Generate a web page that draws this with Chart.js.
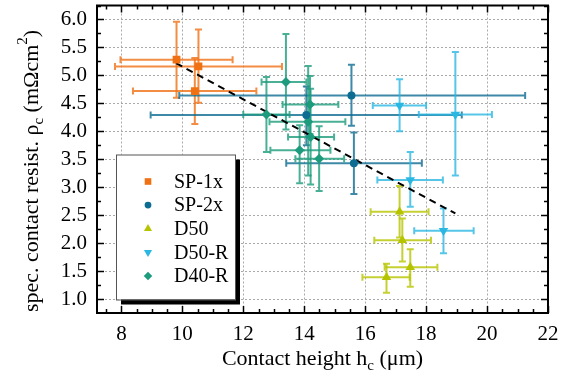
<!DOCTYPE html>
<html>
<head>
<meta charset="utf-8">
<script src="https://cdn.jsdelivr.net/npm/chart.js@4.4.1/dist/chart.umd.min.js"></script>
<style>
  html, body { margin: 0; padding: 0; background: #fff; }
  canvas { display: block; }
</style>
</head>
<body>
<canvas id="grafico" width="561" height="378"></canvas>
<script>
// nomes das séries e cores
const series = ['SP-1x', 'SP-2x', 'D50', 'D50-R', 'D40-R'];
const cores = ['rgb(240,112,20)', 'rgb(12,108,145)', 'rgb(182,196,0)', 'rgb(42,184,226)', 'rgb(28,156,124)'];

const xTicks = [8, 10, 12, 14, 16, 18, 20, 22];
const yTicks = [1.0, 1.5, 2.0, 2.5, 3.0, 3.5, 4.0, 4.5, 5.0, 5.5, 6.0];

// SP-1x
const sp1xX = [9.81, 10.53, 10.41];
const sp1xY = [5.28, 5.16, 4.72];
const sp1xErrX = [[7.97, 11.65], [7.79, 13.27], [8.38, 12.43]];
const sp1xErrY = [[4.60, 5.96], [4.51, 5.82], [4.13, 5.31]];

// SP-2x
const sp2xX = [15.55, 14.07, 15.63];
const sp2xY = [4.64, 4.29, 3.43];
const sp2xErrX = [[9.90, 21.25], [8.96, 19.17], [13.41, 17.86]];
const sp2xErrY = [[4.10, 5.19], [3.75, 4.80], [2.88, 3.98]];

// D50
const d50X = [17.13, 17.22, 17.48, 16.70];
const d50Y = [2.56, 2.05, 1.57, 1.39];
const d50ErrX = [[16.18, 18.08], [16.30, 18.16], [16.64, 18.37], [15.91, 17.46]];
const d50ErrY = [[2.10, 3.02], [1.67, 2.44], [1.22, 1.89], [1.11, 1.63]];

// D50-R
const d50rX = [17.13, 18.96, 17.48, 18.57];
const d50rY = [4.46, 4.30, 3.13, 2.22];
const d50rErrX = [[16.25, 18.00], [17.76, 20.16], [16.40, 18.55], [17.61, 19.56]];
const d50rErrY = [[4.00, 4.93], [3.21, 5.42], [2.65, 3.63], [1.82, 2.62]];

// D40-R
const d40rX = [13.40, 12.76, 14.19, 14.13, 14.21, 13.85, 14.49];
const d40rY = [4.88, 4.30, 4.48, 4.17, 3.90, 3.66, 3.51];
const d40rErrX = [[12.60, 14.07], [12.00, 13.52], [13.29, 15.12], [12.86, 15.35], [13.47, 14.98], [12.89, 14.86], [13.71, 15.31]];
const d40rErrY = [[4.03, 5.74], [3.63, 4.97], [3.95, 4.99], [3.21, 5.17], [3.05, 4.76], [3.07, 4.11], [2.93, 4.09]];

// linha de tendência
const ajusteX = [9.79, 18.96];
const ajusteY = [5.22, 2.53];

const fonte = 'Liberation Serif, Times New Roman, serif';

function pontos(xs, ys) {
  return xs.map((x, i) => ({ x: x, y: ys[i] }));
}

function serie(i, xs, ys, errX, errY, estilo, raio, rotacao) {
  return {
    label: series[i],
    data: pontos(xs, ys),
    erroX: errX,
    erroY: errY,
    backgroundColor: cores[i],
    borderColor: cores[i],
    borderWidth: 0,
    pointStyle: estilo,
    pointRadius: raio,
    pointRotation: rotacao || 0,
    pointHoverRadius: raio,
  };
}

function comAlfa(cor, a) {
  return cor.replace('rgb(', 'rgba(').replace(')', ',' + a + ')');
}

const barrasErro = {
  id: 'barrasErro',
  beforeDatasetsDraw(chart) {
    const ctx = chart.ctx;
    const sx = chart.scales.x;
    const sy = chart.scales.y;
    const cap = 3.5;
    chart.data.datasets.forEach((ds) => {
      if (!ds.erroX) return;
      ctx.save();
      ctx.strokeStyle = comAlfa(ds.borderColor, 0.8);
      ctx.lineWidth = 2;
      ds.data.forEach((p, j) => {
        const px = sx.getPixelForValue(p.x);
        const py = sy.getPixelForValue(p.y);
        const x0 = sx.getPixelForValue(ds.erroX[j][0]);
        const x1 = sx.getPixelForValue(ds.erroX[j][1]);
        const y0 = sy.getPixelForValue(ds.erroY[j][0]);
        const y1 = sy.getPixelForValue(ds.erroY[j][1]);
        ctx.beginPath();
        ctx.moveTo(x0, py); ctx.lineTo(x1, py);
        ctx.moveTo(x0, py - cap); ctx.lineTo(x0, py + cap);
        ctx.moveTo(x1, py - cap); ctx.lineTo(x1, py + cap);
        ctx.moveTo(px, y0); ctx.lineTo(px, y1);
        ctx.moveTo(px - cap, y0); ctx.lineTo(px + cap, y0);
        ctx.moveTo(px - cap, y1); ctx.lineTo(px + cap, y1);
        ctx.stroke();
      });
      ctx.restore();
    });
  }
};

function textoComIndice(ctx, partes, tam) {
  let largura = 0;
  partes.forEach((p) => {
    ctx.font = (p.s ? Math.round(tam * 0.68) : tam) + 'px ' + fonte;
    p.w = ctx.measureText(p.t).width;
    largura += p.w;
  });
  let x = -largura / 2;
  partes.forEach((p) => {
    ctx.font = (p.s ? Math.round(tam * 0.68) : tam) + 'px ' + fonte;
    let dy = 0;
    if (p.s === 1) dy = tam * 0.3;
    if (p.s === 2) dy = -tam * 0.42;
    ctx.fillText(p.t, x, dy);
    x += p.w;
  });
}

const moldura = {
  id: 'moldura',
  afterDatasetsDraw(chart) {
    const ctx = chart.ctx;
    const a = chart.chartArea;
    const sx = chart.scales.x;
    const sy = chart.scales.y;
    ctx.save();
    ctx.strokeStyle = '#000';

    // marcas nos quatro lados
    ctx.lineWidth = 1.5;
    ctx.beginPath();
    for (let v = 7.5; v <= 22; v += 0.5) {
      const px = Math.round(sx.getPixelForValue(v)) + 0.5;
      const t = (v % 2 === 0) ? 7 : 4;
      ctx.moveTo(px, a.bottom); ctx.lineTo(px, a.bottom - t);
      ctx.moveTo(px, a.top); ctx.lineTo(px, a.top + t);
    }
    for (let v = 1; v <= 6.25; v += 0.25) {
      const py = Math.round(sy.getPixelForValue(v)) + 0.5;
      const t = (Math.abs(v * 2 - Math.round(v * 2)) < 1e-6) ? 7 : 4;
      ctx.moveTo(a.left, py); ctx.lineTo(a.left + t, py);
      ctx.moveTo(a.right, py); ctx.lineTo(a.right - t, py);
    }
    ctx.stroke();

    ctx.lineWidth = 2;
    ctx.strokeRect(a.left, a.top, a.right - a.left, a.bottom - a.top);

    // legenda
    const lx = a.left + 19;
    const ly = a.top + 149;
    const lw = 119;
    const lh = 145;
    ctx.fillStyle = '#000';
    ctx.fillRect(lx + 5, ly + 5, lw, lh);
    ctx.fillStyle = '#fff';
    ctx.fillRect(lx, ly, lw, lh);
    ctx.lineWidth = 1;
    ctx.strokeStyle = '#555';
    ctx.strokeRect(lx + 0.5, ly + 0.5, lw, lh);

    chart.data.datasets.forEach((ds, i) => {
      if (!ds.erroX) return;
      const yy = ly + 27 + i * 23.6;
      ctx.fillStyle = ds.backgroundColor;
      ctx.strokeStyle = ds.backgroundColor;
      Chart.helpers.drawPoint(ctx, {
        pointStyle: ds.pointStyle,
        radius: ds.pointRadius * 0.85,
        rotation: ds.pointRotation,
        borderWidth: 0
      }, lx + 32, yy);
      ctx.fillStyle = '#000';
      ctx.font = '20px ' + fonte;
      ctx.textAlign = 'left';
      ctx.textBaseline = 'middle';
      ctx.fillText(ds.label, lx + 58, yy + 1);
    });

    // títulos dos eixos
    ctx.fillStyle = '#000';
    ctx.textAlign = 'left';
    ctx.textBaseline = 'middle';
    ctx.save();
    ctx.translate((a.left + a.right) / 2, 359);
    textoComIndice(ctx, [
      { t: 'Contact height h', s: 0 },
      { t: 'c', s: 1 },
      { t: ' (μm)', s: 0 }
    ], 22);
    ctx.restore();

    ctx.save();
    ctx.translate(32, 171);
    ctx.rotate(-Math.PI / 2);
    textoComIndice(ctx, [
      { t: 'spec. contact resist. ρ', s: 0 },
      { t: 'c', s: 1 },
      { t: ' (mΩcm', s: 0 },
      { t: '2', s: 2 },
      { t: ')', s: 0 }
    ], 22);
    ctx.restore();

    ctx.restore();
  }
};

function desenhaGrafico() {
  const ctx = document.getElementById('grafico').getContext('2d');

  const datasets = [
    serie(0, sp1xX, sp1xY, sp1xErrX, sp1xErrY, 'rect', 5.5),
    serie(1, sp2xX, sp2xY, sp2xErrX, sp2xErrY, 'circle', 4),
    serie(2, d50X, d50Y, d50ErrX, d50ErrY, 'triangle', 5.5),
    serie(3, d50rX, d50rY, d50rErrX, d50rErrY, 'triangle', 5.5, 180),
    serie(4, d40rX, d40rY, d40rErrX, d40rErrY, 'rectRot', 5),
    {
      label: 'ajuste',
      data: pontos(ajusteX, ajusteY),
      showLine: true,
      borderColor: '#000',
      borderWidth: 2,
      borderDash: [7, 5],
      pointRadius: 0,
      fill: false,
    },
  ];

  new Chart(ctx, {
    type: 'scatter',
    data: { datasets: datasets },
    options: {
      responsive: false,
      animation: false,
      devicePixelRatio: 1,
      layout: { padding: { left: 0, right: 13, top: 5, bottom: 0 } },
      plugins: {
        legend: { display: false },
        tooltip: { enabled: false },
      },
      scales: {
        x: {
          type: 'linear',
          min: 7.2,
          max: 22,
          afterBuildTicks: (s) => { s.ticks = xTicks.map(v => ({ value: v })); },
          afterFit: (s) => { s.height = 65; s.paddingLeft = 0; s.paddingRight = 0; },
          grid: { color: 'rgba(160,160,160,0.9)', lineWidth: 1, drawTicks: false },
          border: { display: false, dash: [2, 2] },
          ticks: {
            color: '#000',
            padding: 9,
            maxRotation: 0,
            font: { family: fonte, size: 21 },
            callback: (v) => v,
          },
        },
        y: {
          type: 'linear',
          min: 0.75,
          max: 6.25,
          afterBuildTicks: (s) => { s.ticks = yTicks.map(v => ({ value: v })); },
          afterFit: (s) => { s.width = 97; s.paddingTop = 0; s.paddingBottom = 0; },
          grid: { color: 'rgba(160,160,160,0.9)', lineWidth: 1, drawTicks: false },
          border: { display: false, dash: [2, 2] },
          ticks: {
            color: '#000',
            padding: 10,
            font: { family: fonte, size: 21 },
            callback: (v) => v.toFixed(1),
          },
        },
      },
    },
    plugins: [barrasErro, moldura],
  });
}

window.addEventListener('load', desenhaGrafico);
</script>
</body>
</html>
